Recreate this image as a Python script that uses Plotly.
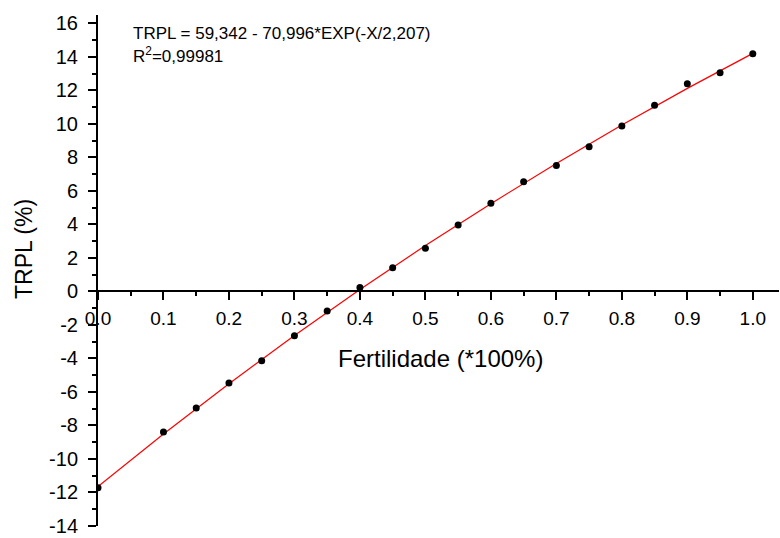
import plotly.graph_objects as go

# Data points (Fertilidade fraction, TRPL %)
fert = [0.0, 0.10, 0.15, 0.20, 0.25, 0.30, 0.35, 0.40, 0.45, 0.50,
        0.55, 0.60, 0.65, 0.70, 0.75, 0.80, 0.85, 0.90, 0.95, 1.00]
trpl = [-11.71, -8.39, -6.96, -5.47, -4.14, -2.65, -1.16, 0.23, 1.41, 2.58,
        3.97, 5.26, 6.55, 7.51, 8.64, 9.87, 11.11, 12.40, 13.05, 14.19]

# Fitted curve values
fit_x = [0.0, 0.1, 0.2, 0.3, 0.4, 0.5, 0.6, 0.7, 0.8, 0.9, 1.0]
fit_y = [-11.65, -8.51, -5.51, -2.63, 0.11, 2.74, 5.24, 7.64, 9.93, 12.12, 14.21]

ytick_vals = [-14, -12, -10, -8, -6, -4, -2, 0, 2, 4, 6, 8, 10, 12, 14, 16]
ytick_text = ["-14", "-12", "-10", "-8", "-6", "-4", "-2", "0", "2", "4",
              "6", "8", "10", "12", "14", "16"]
xtick_vals = [0.0, 0.1, 0.2, 0.3, 0.4, 0.5, 0.6, 0.7, 0.8, 0.9, 1.0]
xtick_text = ["0.0", "0.1", "0.2", "0.3", "0.4", "0.5", "0.6", "0.7", "0.8", "0.9", "1.0"]

eq_text = "TRPL = 59,342 - 70,996*EXP(-X/2,207)"
r2_text = "R<sup>2</sup>=0,99981"
x_title = "Fertilidade (*100%)"
y_title = "TRPL (%)"

FONT = "Liberation Sans, Arial, sans-serif"

W, H = 780, 538
L, R, T, B = 98, 1, 15, 12
pw, ph = W - L - R, H - T - B
YMIN, YMAX = -14, 16.5

def px(x):
    return (x - L) / pw

def py(y):
    return (H - B - y) / ph

fig = go.Figure()
fig.add_trace(go.Scatter(x=fit_x, y=fit_y, mode="lines",
                         line=dict(color="#ff0000", width=1.2),
                         showlegend=False, hoverinfo="skip"))
fig.add_trace(go.Scatter(x=fert, y=trpl, mode="markers",
                         marker=dict(color="black", size=7),
                         showlegend=False))

fig.update_layout(
    width=W, height=H,
    margin=dict(l=L, r=R, t=T, b=B),
    paper_bgcolor="white", plot_bgcolor="white",
    font=dict(family=FONT, color="black"),
    xaxis=dict(range=[0, 1.04], showgrid=False, zeroline=False,
               showline=True, linecolor="black", linewidth=2,
               anchor="free", position=(0 - YMIN) / (YMAX - YMIN),
               tickmode="array", tickvals=xtick_vals, ticktext=xtick_text,
               ticks="outside", ticklen=8, tickwidth=2, tickcolor="black",
               ticklabelstandoff=2,
               tickfont=dict(size=19, family=FONT, color="black"),
               minor=dict(dtick=0.05, ticks="outside", ticklen=4, tickwidth=2,
                          tickcolor="black", showgrid=False)),
    yaxis=dict(range=[YMIN, YMAX], showgrid=False, zeroline=False,
               showline=True, linecolor="black", linewidth=2,
               tickmode="array", tickvals=ytick_vals, ticktext=ytick_text,
               ticks="outside", ticklen=8, tickwidth=2, tickcolor="black",
               ticklabelstandoff=6,
               tickfont=dict(size=20, family=FONT, color="black"),
               minor=dict(dtick=1, tick0=-14, ticks="outside", ticklen=4, tickwidth=2,
                          tickcolor="black", showgrid=False)),
    annotations=[
        dict(text=eq_text, xref="paper", yref="paper", x=px(131), y=py(33),
             xanchor="left", yanchor="middle", showarrow=False,
             font=dict(size=17, family=FONT, color="black")),
        dict(text=r2_text, xref="paper", yref="paper", x=px(131), y=py(55),
             xanchor="left", yanchor="middle", showarrow=False,
             font=dict(size=17, family=FONT, color="black")),
        dict(text=x_title, xref="paper", yref="paper", x=px(440), y=py(358),
             xanchor="center", yanchor="middle", showarrow=False,
             font=dict(size=24, family=FONT, color="black")),
        dict(text=y_title, xref="paper", yref="paper", x=px(24), y=py(249),
             xanchor="center", yanchor="middle", showarrow=False, textangle=-90,
             font=dict(size=23, family=FONT, color="black")),
    ],
)

fig.write_html("out.html")
